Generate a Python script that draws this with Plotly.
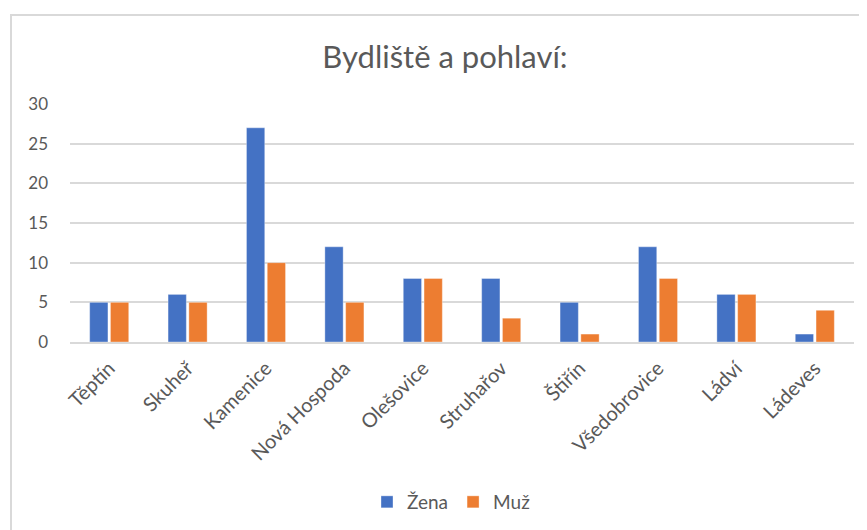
import plotly.graph_objects as go

categories = ["Těptín", "Skuheř", "Kamenice", "Nová Hospoda", "Olešovice",
              "Struhařov", "Štiřín", "Všedobrovice", "Ládví", "Ládeves"]
zena = [5, 6, 27, 12, 8, 8, 5, 12, 6, 1]
muz = [5, 5, 10, 5, 8, 3, 1, 8, 6, 4]
y_ticks = [0, 5, 10, 15, 20, 25, 30]

FONT = "Lato"
TXT = "#595959"
GRID = "#d9d9d9"

fig = go.Figure()
fig.add_trace(go.Bar(name="Žena", x=categories, y=zena,
                     marker=dict(color="#4472C4", line=dict(color="rgba(255,255,255,0.35)", width=1))))
fig.add_trace(go.Bar(name="Muž", x=categories, y=muz,
                     marker=dict(color="#ED7D31", line=dict(color="rgba(255,255,255,0.35)", width=1))))

# page has an 8px body margin; work in figure coordinates = page - 8
OFF = 8
W, H = 859, 522
L, T = 70 - OFF, 104 - OFF
R = W - (854 - OFF)
B = H - (342 - OFF)
pw = W - L - R
ph = H - T - B

def px_x(x):
    return (x - OFF - L) / pw

def px_y(y):
    return (H - B - (y - OFF)) / ph

fig.update_layout(
    width=W, height=H,
    margin=dict(l=L, r=R, t=T, b=B, autoexpand=False),
    paper_bgcolor="white", plot_bgcolor="white",
    font=dict(family=FONT, color=TXT, size=17),
    title=dict(text="Bydliště a pohlaví:", x=(445 - OFF) / W, xref="container", xanchor="center",
               y=1 - (57 - OFF) / H, yref="container", yanchor="middle",
               font=dict(family=FONT, size=31, color=TXT)),
    barmode="group", bargap=0.47, bargroupgap=0.12,
    showlegend=True,
    legend=dict(orientation="h", x=px_x(451), xanchor="center", y=px_y(502), yanchor="middle",
                font=dict(family=FONT, size=19, color=TXT), itemwidth=30, traceorder="normal"),
    xaxis=dict(tickangle=-45, showgrid=False, showline=True, linecolor=GRID, linewidth=1.5,
               ticks="", ticklabelstandoff=5, tickfont=dict(size=20, color=TXT)),
    yaxis=dict(range=[0, 30], tickvals=y_ticks, showgrid=True, gridcolor=GRID, gridwidth=1.5,
               zeroline=False, showline=False, ticks="", ticklabelstandoff=21,
               tickfont=dict(size=17, color=TXT)),
    shapes=[dict(type="rect", xref="paper", yref="paper",
                 x0=px_x(11), x1=px_x(900), y0=px_y(560), y1=px_y(15),
                 line=dict(color=GRID, width=2), fillcolor="rgba(0,0,0,0)", layer="below")],
)

fig.write_html("out.html")
